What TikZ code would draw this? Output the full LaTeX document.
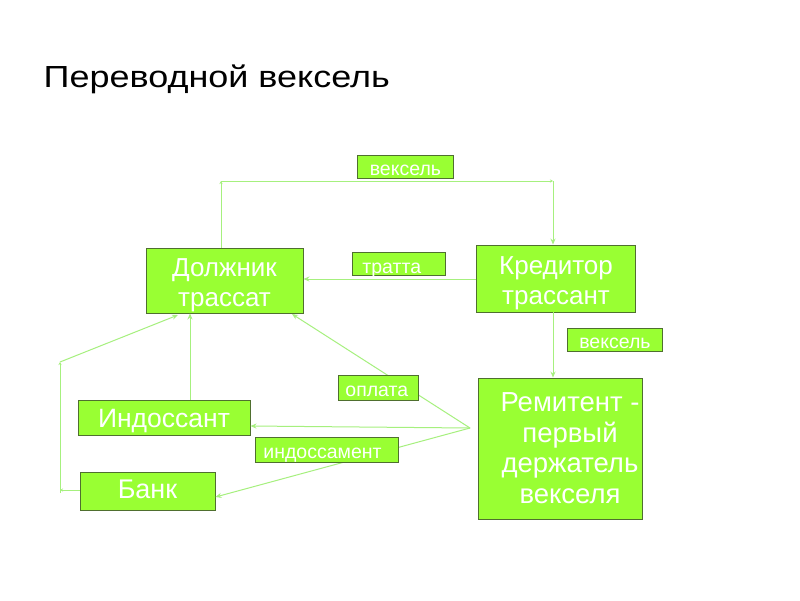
\documentclass[tikz,border=0pt]{standalone}
\usepackage{fontspec}
\setmainfont{Liberation Sans}
\newfontfamily\titlefont[FakeStretch=1.18]{Liberation Sans}
\usetikzlibrary{arrows.meta}
\definecolor{boxg}{HTML}{99FF33}
\definecolor{lineg}{HTML}{A6F07E}
\definecolor{edgeg}{HTML}{4F6F2F}
\newcommand{\bxt}[3]{\raisebox{#1}[\height][\depth]{\begin{tabular}{#2}#3\end{tabular}}}
\tikzset{
  box/.style={draw=edgeg, fill=boxg, text=white, inner sep=0pt, line width=0.9pt,
    font=\fontsize{26}{30}\selectfont},
  lbl/.style={draw=edgeg, fill=boxg, text=white, inner ysep=0pt, line width=0.9pt, anchor=north west,
    font=\fontsize{19.5}{22}\selectfont},
  conn/.style={draw=lineg, line width=1pt, -{Stealth[length=6pt,width=5pt]}},
  tiny/.style={draw=lineg, line width=1pt, -{Stealth[length=3pt,width=3pt]}}
}
\begin{document}
\begin{tikzpicture}[x=1pt,y=-1pt]
\useasboundingbox[fill=white] (0,0) rectangle (800,600);
\node[anchor=base west, inner sep=0pt, font=\titlefont\fontsize{30.5}{34}\selectfont] (title) at (43.5,87) {Переводной вексель};

\node[box, minimum width=157, minimum height=65] (dol) at (224.5,280.5) {\bxt{-5pt}{@{}c@{}}{Должник\\трассат}};
\node[box, minimum width=159, minimum height=67] (kred) at (556,278.5) {\bxt{-5pt}{@{}c@{}}{Кредитор\\трассант}};
\node[box, minimum width=164, minimum height=141, font=\fontsize{27.5}{30.5}\selectfont] (rem) at (560,448.5) {\bxt{-3pt}{@{\hspace{20pt}}c@{}}{Ремитент -\\первый\\держатель\\векселя}};
\node[box, minimum width=172, minimum height=35, font=\fontsize{26.5}{30}\selectfont] (ind) at (164,417.5) {\bxt{-4pt}{@{}c@{}}{Индоссант}};
\node[box, minimum width=135, minimum height=38, font=\fontsize{27}{30}\selectfont] (bank) at (147.5,491) {\bxt{-1pt}{@{}c@{}}{Банк}};

\coordinate (t1) at (221,181);
\coordinate (t2) at (553,181);
\coordinate (hub) at (470,428);
\coordinate (b1) at (60,490);
\coordinate (b2) at (60,362);

\draw[tiny] (dol.north -| t1) -- (t1);
\draw[tiny] (t1) -- (t2);
\draw[conn] (t2) -- (kred.north -| t2);
\draw[conn] (kred.west |- 0,279) -- (dol.east |- 0,279);
\draw[conn] (kred.south -| 553,0) -- (rem.north -| 553,0);
\draw[conn] (hub) -- (292,314);
\draw[conn] (hub) -- (ind.east |- 0,426);
\draw[conn] (hub) -- (bank.east |- 0,497);
\draw[conn] (ind.north -| 190,0) -- (dol.south -| 190,0);
\draw[tiny] (bank.west |- b1) -- (b1);
\draw[tiny] (b1 |- 0,493) -- (b2);
\draw[conn] (b2) -- (178,315);

\node[lbl, inner xsep=6pt, text width=84pt, text height=20pt, text depth=3pt, align=center] (v1) at (357,155) {вексель};
\node[lbl, inner xsep=10pt, text width=73pt, text height=21pt, text depth=2pt, align=left] (tr) at (352,252) {тратта};
\node[lbl, inner xsep=6pt, text width=83pt, text height=20pt, text depth=3pt, align=center] (v2) at (567,328) {вексель};
\node[lbl, inner xsep=7pt, text width=66pt, text height=21pt, text depth=4pt, align=left] (opl) at (338,375) {оплата};
\node[lbl, inner xsep=8pt, text width=127pt, text height=21pt, text depth=4pt, align=left] (indm) at (255,437) {индоссамент};
\end{tikzpicture}
\end{document}
